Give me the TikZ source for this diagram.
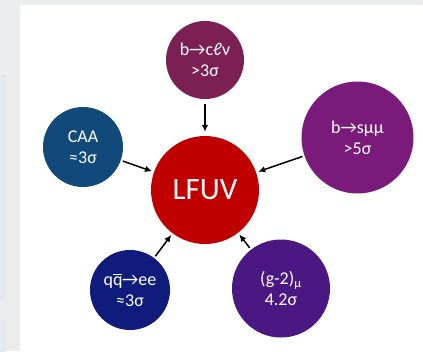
\documentclass[tikz,border=0pt]{standalone}
\usepackage{fontspec}
\setmainfont{Carlito}
\usetikzlibrary{arrows.meta}
\definecolor{bggray}{HTML}{EBECED}
\definecolor{panelfill}{HTML}{E5E9EE}
\definecolor{panelline}{HTML}{D6DBE1}
\definecolor{cTop}{HTML}{7C2053}
\definecolor{cCAA}{HTML}{10497A}
\definecolor{cLFUV}{HTML}{C00000}
\definecolor{cBsmm}{HTML}{7A1A7B}
\definecolor{cQQ}{HTML}{101C7C}
\definecolor{cGm}{HTML}{4A1783}
\newcommand\qbarsym{\leavevmode\rlap{q}\raisebox{0.6em}{\rule{0.5em}{0.06em}}}
\begin{document}
\begin{tikzpicture}[x=1pt,y=-1pt,
  bubble/.style={circle,inner sep=0pt,text=white,align=center,
    font=\fontsize{18}{21}\selectfont},
  link/.style={line width=1.5pt,-{Latex[length=7pt,width=6.5pt]},
    shorten <=2pt,shorten >=2pt}]
\useasboundingbox (0,0) rectangle (423,351);
\fill[bggray] (0,0) rectangle (423,351);
\fill[white] (20,5) rectangle (423,351);
\draw[panelline,fill=panelfill,rounded corners=3pt] (-6,75) rectangle (5,298);
\draw[panelline,fill=panelfill,rounded corners=3pt] (-6,322) rectangle (5,360);
\node[bubble,fill=cLFUV,minimum size=108pt,font=\fontsize{31}{36}\selectfont] (lfuv) at (205,190) {LFUV};
\node[bubble,fill=cTop,minimum size=78pt] (bc) at (205,60) {b→cℓν\\>3σ};
\node[bubble,fill=cCAA,minimum size=80pt] (caa) at (83,147) {CAA\\≈3σ};
\node[bubble,fill=cBsmm,minimum size=112pt] (bs) at (357.5,137.5) {b→sμμ\\>5σ};
\node[bubble,fill=cQQ,minimum size=80pt] (qq) at (130,290) {q\qbarsym→ee\\≈3σ};
\node[bubble,fill=cGm,minimum size=98pt] (gm) at (281,288.5) {(g-2)\textsubscript{μ}\\4.2σ};
\draw[link,shorten <=5pt,shorten >=4pt] (bc) -- (lfuv);
\draw[link] (caa) -- (lfuv);
\draw[link] (bs) -- (lfuv);
\draw[link] (qq) -- (lfuv);
\draw[link] (gm) -- (lfuv);
\end{tikzpicture}
\end{document}
